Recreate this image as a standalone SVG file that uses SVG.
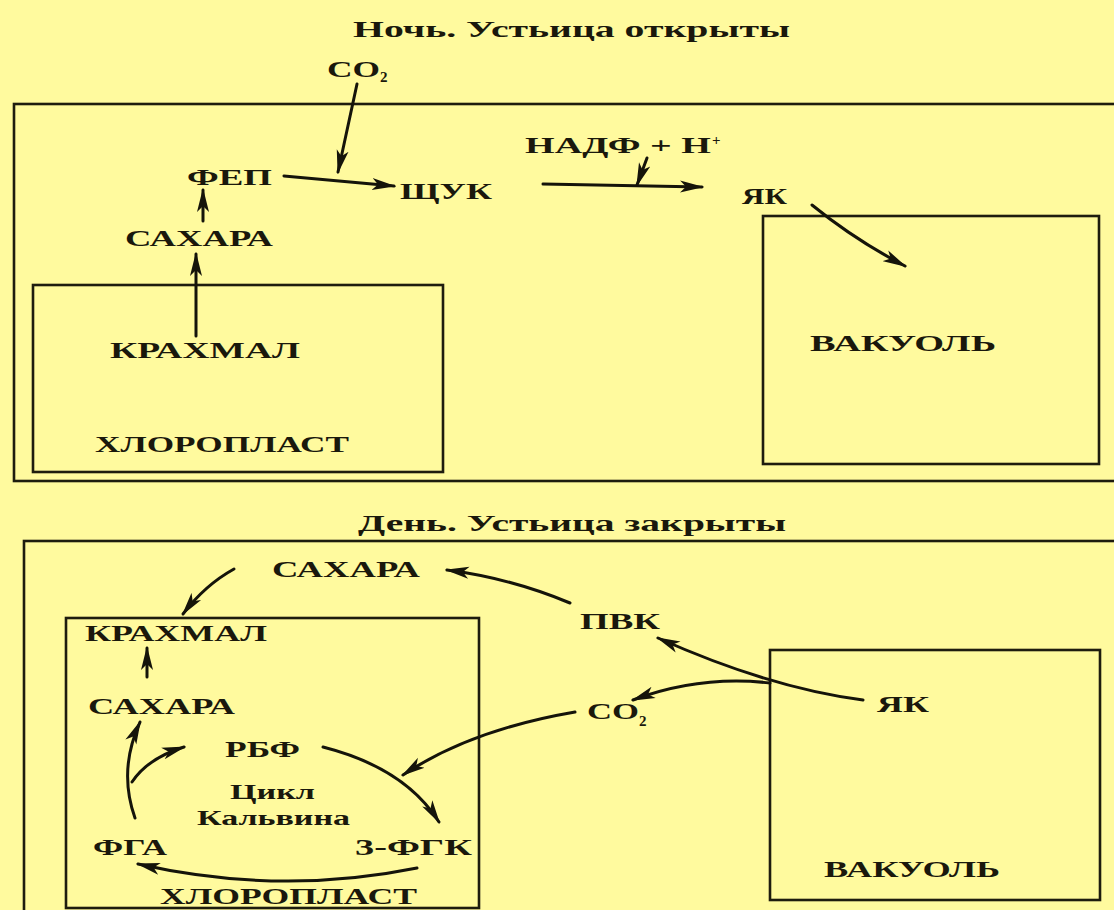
<svg xmlns="http://www.w3.org/2000/svg" width="1114" height="910" viewBox="0 0 1114 910">
<style>
  .bg { fill: #FFFA9E; }
  .box { fill: none; stroke: #1E1C0E; stroke-width: 2.6; }
  .lbl { font-family: "Liberation Serif", "Times New Roman", serif; font-weight: bold; font-size: 23px; fill: #1A180C; }
  .cyc { font-family: "Liberation Serif", "Times New Roman", serif; font-weight: bold; font-size: 21px; fill: #1A180C; }
  .ttl { font-family: "Liberation Serif", "Times New Roman", serif; font-weight: bold; font-size: 24px; fill: #1A180C; }
  .sub { font-family: "Liberation Serif", "Times New Roman", serif; font-weight: bold; font-size: 15px; fill: #1A180C; }
  .arr { fill: none; stroke: #15140A; stroke-width: 3; stroke-linecap: round; marker-end: url(#ah); }
</style>
<defs>
  <marker id="ah" markerUnits="userSpaceOnUse" markerWidth="26" markerHeight="14" refX="22" refY="7" orient="auto" viewBox="0 0 26 14">
    <path d="M0,1 L24,7 L0,13 L6,7 z" fill="#15140A"/>
  </marker>
</defs>
<rect class="bg" x="0" y="0" width="1114" height="910"/>

<g id="night">
  <g id="title-night"><text class="ttl" x="353" y="37" textLength="437" lengthAdjust="spacingAndGlyphs">Ночь. Устьица открыты</text></g>
  <g id="cell-night"><rect class="box" x="14" y="104" width="1120" height="377"/></g>
  <g id="co2-night"><text class="lbl" x="327" y="77" textLength="53" lengthAdjust="spacingAndGlyphs">CO</text><text class="sub" x="380" y="82">2</text></g>
  <g id="fep"><text class="lbl" x="187" y="185" textLength="85" lengthAdjust="spacingAndGlyphs">ФЕП</text></g>
  <g id="shuk"><text class="lbl" x="400" y="199" textLength="92" lengthAdjust="spacingAndGlyphs">ЩУК</text></g>
  <g id="nadf"><text class="lbl" x="525" y="153" textLength="186" lengthAdjust="spacingAndGlyphs">НАДФ + Н</text><text class="sub" x="712" y="145">+</text></g>
  <g id="yak-night"><text class="lbl" x="742" y="204" textLength="45" lengthAdjust="spacingAndGlyphs">ЯК</text></g>
  <g id="sugar-night"><text class="lbl" x="125" y="246" textLength="148" lengthAdjust="spacingAndGlyphs">САХАРА</text></g>
  <g id="chloroplast-night">
    <rect class="box" x="33" y="285" width="410" height="187"/>
    <text class="lbl" x="110" y="358" textLength="190" lengthAdjust="spacingAndGlyphs">КРАХМАЛ</text>
    <text class="lbl" x="95" y="452" textLength="254" lengthAdjust="spacingAndGlyphs">ХЛОРОПЛАСТ</text>
  </g>
  <g id="vacuole-night">
    <rect class="box" x="763" y="216" width="336" height="248"/>
    <text class="lbl" x="810" y="351" textLength="186" lengthAdjust="spacingAndGlyphs">ВАКУОЛЬ</text>
  </g>
</g>

<g id="day">
  <g id="title-day"><text class="ttl" x="358" y="531" textLength="428" lengthAdjust="spacingAndGlyphs">День. Устьица закрыты</text></g>
  <g id="cell-day"><rect class="box" x="24" y="541" width="1110" height="400"/></g>
  <g id="sugar-day-top"><text class="lbl" x="272" y="577" textLength="148" lengthAdjust="spacingAndGlyphs">САХАРА</text></g>
  <g id="pvk"><text class="lbl" x="580" y="629" textLength="80" lengthAdjust="spacingAndGlyphs">ПВК</text></g>
  <g id="co2-day"><text class="lbl" x="587" y="719" textLength="52" lengthAdjust="spacingAndGlyphs">CO</text><text class="sub" x="639" y="726">2</text></g>
  <g id="vacuole-day">
    <rect class="box" x="770" y="650" width="330" height="250"/>
    <text class="lbl" x="877" y="712" textLength="52" lengthAdjust="spacingAndGlyphs">ЯК</text>
    <text class="lbl" x="824" y="877" textLength="176" lengthAdjust="spacingAndGlyphs">ВАКУОЛЬ</text>
  </g>
  <g id="chloroplast-day">
    <rect class="box" x="66" y="618" width="413" height="290"/>
    <text class="lbl" x="85" y="641" textLength="182" lengthAdjust="spacingAndGlyphs">КРАХМАЛ</text>
    <text class="lbl" x="88" y="714" textLength="147" lengthAdjust="spacingAndGlyphs">САХАРА</text>
    <text class="lbl" x="225" y="757" textLength="75" lengthAdjust="spacingAndGlyphs">РБФ</text>
    <text class="cyc" x="230" y="799" textLength="85" lengthAdjust="spacingAndGlyphs">Цикл</text>
    <text class="cyc" x="197" y="825" textLength="153" lengthAdjust="spacingAndGlyphs">Кальвина</text>
    <text class="lbl" x="93" y="855" textLength="74" lengthAdjust="spacingAndGlyphs">ФГА</text>
    <text class="lbl" x="355" y="855" textLength="117" lengthAdjust="spacingAndGlyphs">3-ФГК</text>
    <text class="lbl" x="160" y="904" textLength="257" lengthAdjust="spacingAndGlyphs">ХЛОРОПЛАСТ</text>
  </g>
</g>

<g id="connectors">
  <path class="arr" d="M357,84 L338,172"/>
  <path class="arr" d="M284,176 L394,186"/>
  <path class="arr" d="M203,221 L203,190"/>
  <path class="arr" d="M196,336 L196,254"/>
  <path class="arr" d="M543,184 L702,187"/>
  <path class="arr" d="M647,158 L637,185"/>
  <path class="arr" d="M812,205 Q855,240 905,266"/>

  <path class="arr" d="M234,569 Q205,585 183,614"/>
  <path class="arr" d="M570,603 Q510,578 447,570"/>
  <path class="arr" d="M863,700 Q770,688 658,638"/>
  <path class="arr" d="M770,683 Q700,675 633,700"/>
  <path class="arr" d="M575,712 Q470,730 403,775"/>
  <path class="arr" d="M323,747 Q405,768 439,822"/>
  <path class="arr" d="M417,868 Q280,896 138,864"/>
  <path class="arr" d="M135,818 Q118,770 140,722"/>
  <path class="arr" d="M132,782 Q148,758 184,747"/>
  <path class="arr" d="M147,677 L147,648"/>
</g>
</svg>
